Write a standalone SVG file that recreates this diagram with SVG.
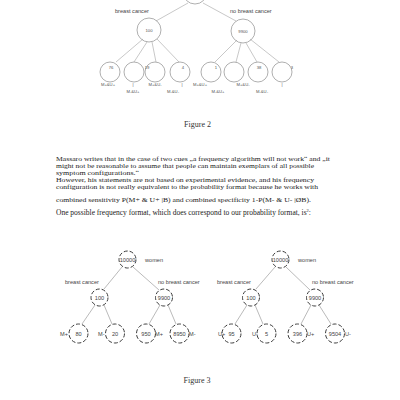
<svg xmlns="http://www.w3.org/2000/svg" width="400" height="400" viewBox="0 0 400 400">
<style>
.bg{fill:#fff}
.c2{fill:none;stroke:#9a9a9a;stroke-width:0.8}
.c3{fill:none;stroke:#3a3a3a;stroke-width:1;stroke-dasharray:4 2}
.ln{stroke:#b0b0b0;stroke-width:0.7;fill:none}
.ln3{stroke:#a8a8a8;stroke-width:0.8;fill:none}
.s{font-family:"Liberation Sans",Arial,sans-serif;font-size:4.2px;fill:#555}
.m{font-family:"Liberation Sans",Arial,sans-serif;font-size:5.6px;fill:#444}
.t{font-family:"Liberation Serif","Times New Roman",serif;font-size:7.1px;fill:#222}
.cap{font-family:"Liberation Serif","Times New Roman",serif;font-size:8px;fill:#333}
</style>
<rect class="bg" width="400" height="400"/>

<!-- Figure 2 tree -->
<g id="fig2-connectors">
<line class="ln" x1="188" y1="3" x2="156" y2="21"/>
<line class="ln" x1="203" y1="3" x2="236" y2="21"/>
<line class="ln" x1="143" y1="39" x2="116" y2="62"/>
<line class="ln" x1="147" y1="42" x2="134" y2="62"/>
<line class="ln" x1="152" y1="42" x2="156" y2="62"/>
<line class="ln" x1="157" y1="39" x2="179" y2="62"/>
<line class="ln" x1="237" y1="40" x2="215" y2="62"/>
<line class="ln" x1="241" y1="43" x2="236" y2="62"/>
<line class="ln" x1="246" y1="43" x2="257" y2="62"/>
<line class="ln" x1="250" y1="39" x2="279" y2="62"/>
</g>
<g id="f2-root"><circle class="c2" cx="195" cy="-8" r="12"/></g>
<text class="m" x="115" y="13" font-size="4.5">breast cancer</text>
<text class="m" x="230" y="13" font-size="4.5">no breast  cancer</text>
<g id="f2-100"><circle class="c2" cx="149" cy="30" r="12"/><text class="s" x="149" y="31.5" text-anchor="middle">100</text></g>
<g id="f2-9900"><circle class="c2" cx="243" cy="31" r="12"/><text class="s" x="243" y="32.5" text-anchor="middle">9900</text></g>
<g id="f2-l1"><circle class="c2" cx="110" cy="72" r="10"/><text class="s" x="111" y="69" text-anchor="middle">76</text></g>
<g id="f2-l2"><circle class="c2" cx="134" cy="72" r="10"/></g>
<g id="f2-l3"><circle class="c2" cx="155" cy="72" r="10"/><text class="s" x="147" y="69" text-anchor="middle">19</text></g>
<g id="f2-l4"><circle class="c2" cx="180" cy="72" r="10"/><text class="s" x="183" y="69" text-anchor="middle">4</text></g>
<g id="f2-l5"><circle class="c2" cx="211" cy="72" r="10"/><text class="s" x="216" y="69" text-anchor="middle">1</text></g>
<g id="f2-l6"><circle class="c2" cx="234" cy="72" r="10"/></g>
<g id="f2-l7"><circle class="c2" cx="258" cy="72" r="10"/><text class="s" x="259" y="69" text-anchor="middle">38</text></g>
<g id="f2-l8"><circle class="c2" cx="282" cy="72" r="10"/><text class="s" x="292" y="69" text-anchor="middle">3</text></g>
<g id="f2-labels" class="s">
<text x="108" y="86" text-anchor="middle">M+&amp;U+</text>
<text x="133" y="86" text-anchor="middle">|</text>
<text x="133" y="93" text-anchor="middle">M-&amp;U+</text>
<text x="155" y="86" text-anchor="middle">M+&amp;U-</text>
<text x="182" y="86" text-anchor="middle">|</text>
<text x="173" y="93" text-anchor="middle">M-&amp;U-</text>
<text x="200" y="86" text-anchor="middle">M+&amp;U+</text>
<text x="218" y="93" text-anchor="middle">M-&amp;U+</text>
<text x="243" y="86" text-anchor="middle">M+&amp;U-</text>
<text x="262" y="93" text-anchor="middle">M-&amp;U-</text>
<text x="282" y="86" text-anchor="middle">|</text>
</g>
<text class="cap" x="197.5" y="127" text-anchor="middle">Figure 2</text>

<!-- Paragraph -->
<g class="t">
<text x="56" y="160.5" textLength="274" lengthAdjust="spacingAndGlyphs">Massaro writes that in the case of two cues „a frequency algorithm will not work“ and „it</text>
<text x="56" y="167.5" textLength="258" lengthAdjust="spacingAndGlyphs">might not be reasonable to assume that people can maintain exemplars of all possible</text>
<text x="56" y="174.5" textLength="83" lengthAdjust="spacingAndGlyphs">symptom configurations.“</text>
<text x="56" y="181.5" textLength="258" lengthAdjust="spacingAndGlyphs">However, his statements are not based on experimental evidence, and his frequency</text>
<text x="56" y="188.5" textLength="262" lengthAdjust="spacingAndGlyphs">configuration is not really equivalent to the probability format because he works with</text>
<text x="56" y="202" textLength="255" lengthAdjust="spacingAndGlyphs">combined sensitivity P(M+ &amp; U+ |B) and combined specificity 1-P(M- &amp; U- |ØB).</text>
<text x="56" y="215" font-size="7.5">One possible frequency format, which does correspond to our probability format, is<tspan font-size="4.5" dy="-3">2</tspan><tspan dy="3">:</tspan></text>
</g>

<!-- Figure 3 connectors -->
<g id="fig3-connectors">
<line class="ln3" x1="122" y1="267" x2="104" y2="289"/>
<line class="ln3" x1="133" y1="267" x2="159" y2="290"/>
<line class="ln3" x1="95" y1="305" x2="82" y2="324"/>
<line class="ln3" x1="104" y1="305" x2="112" y2="324"/>
<line class="ln3" x1="160" y1="305" x2="149" y2="324"/>
<line class="ln3" x1="168" y1="305" x2="176" y2="324"/>
<line class="ln3" x1="275" y1="267" x2="256" y2="289"/>
<line class="ln3" x1="286" y1="267" x2="310" y2="290"/>
<line class="ln3" x1="247" y1="305" x2="235" y2="324"/>
<line class="ln3" x1="255" y1="305" x2="263" y2="324"/>
<line class="ln3" x1="311" y1="305" x2="301" y2="324"/>
<line class="ln3" x1="319" y1="305" x2="331" y2="324"/>
</g>

<!-- Figure 3 left -->
<g id="L-root"><circle class="c3" cx="127.5" cy="259.5" r="8.5"/><text class="m" x="127.5" y="261.5" text-anchor="middle">10000</text></g>
<text class="m" x="145" y="261.5">women</text>
<text class="m" x="65" y="284">breast cancer</text>
<text class="m" x="158" y="284">no breast cancer</text>
<g id="L-100"><circle class="c3" cx="99.5" cy="297.5" r="8.5"/><text class="m" x="99.5" y="299.5" text-anchor="middle">100</text></g>
<g id="L-9900"><circle class="c3" cx="164" cy="297.5" r="8.5"/><text class="m" x="164" y="299.5" text-anchor="middle">9900</text></g>
<g id="L-80"><circle class="c3" cx="78.5" cy="333.5" r="9.5"/><text class="m" x="78.5" y="335.5" text-anchor="middle">80</text><text class="m" x="60" y="335.5">M+</text></g>
<g id="L-20"><circle class="c3" cx="115" cy="333.5" r="9.5"/><text class="m" x="115" y="335.5" text-anchor="middle">20</text><text class="m" x="98" y="335.5">M-</text></g>
<g id="L-950"><circle class="c3" cx="146" cy="333.5" r="9.5"/><text class="m" x="146" y="335.5" text-anchor="middle">950</text><text class="m" x="155" y="335.5">M+</text></g>
<g id="L-8950"><circle class="c3" cx="179.5" cy="333.5" r="9.5"/><text class="m" x="179.5" y="335.5" text-anchor="middle">8950</text><text class="m" x="189" y="335.5">M-</text></g>

<!-- Figure 3 right -->
<g id="R-root"><circle class="c3" cx="280.5" cy="259.5" r="8.5"/><text class="m" x="280.5" y="261.5" text-anchor="middle">10000</text></g>
<text class="m" x="298" y="261.5">women</text>
<text class="m" x="217" y="284">breast cancer</text>
<text class="m" x="312" y="284">no breast cancer</text>
<g id="R-100"><circle class="c3" cx="251" cy="297.5" r="8.5"/><text class="m" x="251" y="299.5" text-anchor="middle">100</text></g>
<g id="R-9900"><circle class="c3" cx="315" cy="297.5" r="8.5"/><text class="m" x="315" y="299.5" text-anchor="middle">9900</text></g>
<g id="R-95"><circle class="c3" cx="231.5" cy="333.5" r="9.5"/><text class="m" x="231.5" y="335.5" text-anchor="middle">95</text><text class="m" x="218" y="335.5">U+</text></g>
<g id="R-5"><circle class="c3" cx="266.5" cy="333.5" r="9.5"/><text class="m" x="266.5" y="335.5" text-anchor="middle">5</text><text class="m" x="252" y="335.5">U-</text></g>
<g id="R-396"><circle class="c3" cx="297.5" cy="333.5" r="9.5"/><text class="m" x="297.5" y="335.5" text-anchor="middle">396</text><text class="m" x="307" y="335.5">U+</text></g>
<g id="R-9504"><circle class="c3" cx="335" cy="333.5" r="9.5"/><text class="m" x="335" y="335.5" text-anchor="middle">9504</text><text class="m" x="345" y="335.5">U-</text></g>

<text class="cap" x="197" y="383" text-anchor="middle">Figure 3</text>
</svg>
